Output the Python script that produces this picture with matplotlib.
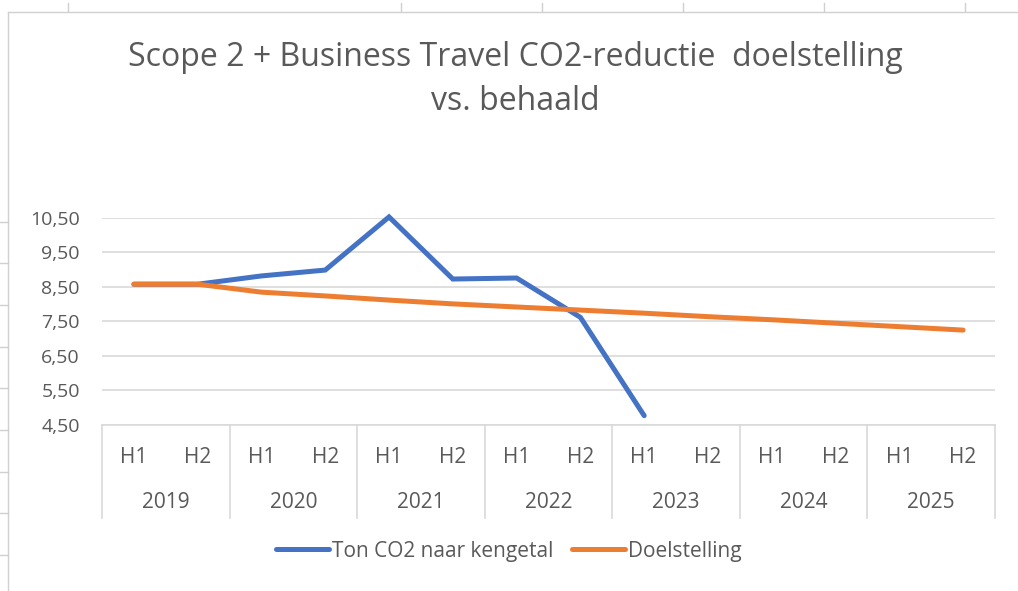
import matplotlib.pyplot as plt
from matplotlib.lines import Line2D
from matplotlib.ticker import FuncFormatter

plt.rcParams['font.family'] = ['Open Sans', 'DejaVu Sans']

# data
years = ['2019', '2020', '2021', '2022', '2023', '2024', '2025']
halves = ['H1', 'H2']
actual = [8.58, 8.58, 8.82, 8.99, 10.53, 8.73, 8.76, 7.62, 4.77]
target = [8.58, 8.58, 8.35, 8.24, 8.12, 8.01, 7.92, 7.83, 7.74, 7.64,
          7.55, 7.45, 7.35, 7.25]

txt = '#595959'
grid = '#D9D9D9'
blue = '#4472C4'
orange = '#ED7D31'

fig = plt.figure(figsize=(10.18, 5.91), dpi=100)
ax = fig.add_axes([0.1002, 0.2809, 0.8772, 0.3503])

n = len(years) * len(halves)
x = list(range(n))
ax.plot(x[:len(actual)], actual, color=blue, lw=3.6, solid_capstyle='round',
        solid_joinstyle='miter', clip_on=False, zorder=3, label='Ton CO2 naar kengetal')
ax.plot(x, target, color=orange, lw=3.6, solid_capstyle='round',
        clip_on=False, zorder=4, label='Doelstelling')

ax.set_xlim(-0.5, n - 0.5)
ax.set_ylim(4.5, 10.5)
ax.set_yticks([4.5, 5.5, 6.5, 7.5, 8.5, 9.5, 10.5])
ax.yaxis.set_major_formatter(FuncFormatter(lambda v, p: f'{v:.2f}'.replace('.', ',')))
ax.tick_params(axis='y', length=0, pad=16, labelsize=14, labelcolor=txt)
ax.set_xticks([])
for s in ['left', 'right', 'top']:
    ax.spines[s].set_visible(False)
ax.spines['bottom'].set_color(grid)
ax.spines['bottom'].set_linewidth(1.2)
ax.grid(axis='y', color=grid, lw=1.2)
ax.set_axisbelow(True)

# two-level category axis
tr = ax.get_xaxis_transform()
for i in range(len(years) + 1):
    ax.plot([i * 2 - 0.5, i * 2 - 0.5], [0, -0.45], transform=tr, color=grid,
            lw=1.2, clip_on=False)
for i, yr in enumerate(years):
    for j, h in enumerate(halves):
        ax.text(i * 2 + j, -0.155, h, transform=tr, ha='center', va='center',
                fontsize=15, color=txt)
    ax.text(i * 2 + 0.5, -0.372, yr, transform=tr, ha='center', va='center',
            fontsize=15, color=txt)

fig.text(0.506, 1 - 57 / 591, 'Scope 2 + Business Travel CO2-reductie  doelstelling',
         ha='center', va='center', fontsize=23, color=txt)
fig.text(0.506, 1 - 101 / 591, 'vs. behaald', ha='center', va='center',
         fontsize=23, color=txt)

fig.legend(loc='center', bbox_to_anchor=(0.5, 1 - 551 / 591), ncol=2, frameon=False,
           fontsize=15, labelcolor=txt, handlelength=2.55, handletextpad=0.15,
           columnspacing=0.9)

# surrounding sheet lines
fig.add_artist(Line2D([8 / 1018, 1], [1 - 12 / 591] * 2, color='#D0D0D0', lw=1))
fig.add_artist(Line2D([8 / 1018] * 2, [0, 1 - 12 / 591], color='#D0D0D0', lw=1))
for xp in [68, 401, 542, 683, 824, 965]:
    fig.add_artist(Line2D([xp / 1018] * 2, [1 - 3 / 591, 1 - 11 / 591], color='#D0D0D0', lw=1))
for yp in [222, 263, 305, 347, 388, 430, 472, 513, 555]:
    fig.add_artist(Line2D([0, 8 / 1018], [1 - yp / 591] * 2, color='#D0D0D0', lw=1))

fig.savefig('out.png', dpi=100)
